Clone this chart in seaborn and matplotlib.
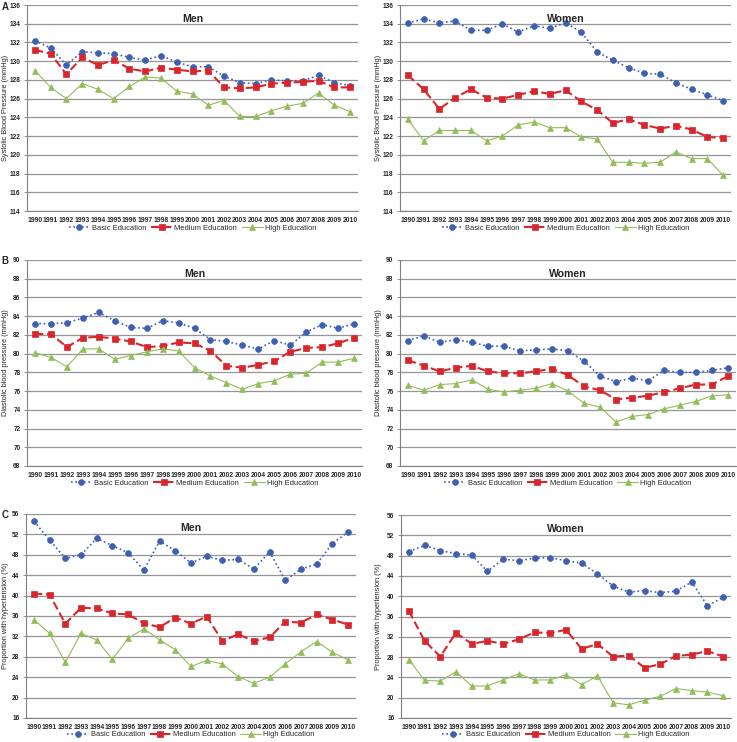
import matplotlib
matplotlib.use("Agg")
import matplotlib.pyplot as plt
import seaborn as sns
import numpy as np

years = [str(y) for y in range(1990, 2011)]
series_names = ["Basic Education", "Medium Education", "High Education"]

# Panel A: systolic blood pressure (mmHg)
sbp_men_basic = [132.2, 131.4, 129.6, 131.0, 130.9, 130.8, 130.4, 130.1, 130.6, 129.9, 129.4,
                 129.4, 128.4, 127.7, 127.6, 128.0, 127.9, 127.9, 128.5, 127.7, 127.4]
sbp_men_medium = [131.2, 130.8, 128.6, 130.4, 129.6, 130.1, 129.2, 128.9, 129.3, 129.1, 128.9,
                  129.0, 127.2, 127.1, 127.2, 127.6, 127.7, 127.8, 127.9, 127.2, 127.2]
sbp_men_high = [129.0, 127.2, 126.0, 127.6, 127.0, 126.0, 127.3, 128.3, 128.2, 126.8, 126.5,
                125.3, 125.8, 124.1, 124.1, 124.7, 125.2, 125.5, 126.6, 125.3, 124.6]
sbp_women_basic = [134.1, 134.5, 134.1, 134.3, 133.3, 133.3, 134.0, 133.1, 133.8, 133.5, 134.1,
                   133.1, 131.0, 130.1, 129.3, 128.7, 128.6, 127.7, 127.0, 126.4, 125.8]
sbp_women_medium = [128.5, 127.0, 124.9, 126.1, 127.0, 126.1, 126.0, 126.4, 126.8, 126.5, 126.9,
                    125.7, 124.8, 123.4, 123.8, 123.2, 122.8, 123.1, 122.7, 121.9, 121.8]
sbp_women_high = [123.8, 121.5, 122.6, 122.6, 122.6, 121.5, 122.0, 123.2, 123.5, 122.9, 122.9,
                  121.9, 121.7, 119.2, 119.2, 119.1, 119.2, 120.3, 119.6, 119.6, 117.8]

# Panel B: diastolic blood pressure (mmHg)
dbp_men_basic = [83.2, 83.2, 83.3, 83.8, 84.4, 83.5, 82.8, 82.7, 83.5, 83.3, 82.7,
                 81.5, 81.3, 80.9, 80.5, 81.4, 80.9, 82.3, 83.1, 82.7, 83.2]
dbp_men_medium = [82.1, 82.1, 80.7, 81.7, 81.8, 81.6, 81.3, 80.7, 80.8, 81.2, 81.1,
                  80.3, 78.7, 78.5, 78.8, 79.2, 80.2, 80.6, 80.7, 81.1, 81.7]
dbp_men_high = [80.1, 79.6, 78.6, 80.5, 80.5, 79.4, 79.8, 80.2, 80.5, 80.3, 78.5,
                77.6, 76.9, 76.2, 76.8, 77.1, 77.8, 77.9, 79.1, 79.1, 79.5]
dbp_women_basic = [81.4, 81.9, 81.2, 81.5, 81.2, 80.8, 80.8, 80.3, 80.4, 80.5, 80.3,
                   79.2, 77.6, 77.0, 77.4, 77.1, 78.2, 78.0, 78.0, 78.2, 78.5]
dbp_women_medium = [79.3, 78.7, 78.1, 78.5, 78.7, 78.1, 77.9, 77.9, 78.1, 78.4, 77.7,
                    76.5, 76.1, 75.1, 75.3, 75.5, 75.9, 76.3, 76.7, 76.7, 77.6]
dbp_women_high = [76.6, 76.1, 76.7, 76.8, 77.2, 76.2, 75.9, 76.1, 76.3, 76.8, 76.0,
                  74.7, 74.3, 72.7, 73.3, 73.5, 74.1, 74.5, 74.9, 75.5, 75.6]

# Panel C: proportion with hypertension (%)
htn_men_basic = [54.6, 50.9, 47.3, 48.0, 51.2, 49.8, 48.4, 45.0, 50.7, 48.8, 46.4,
                 47.7, 46.9, 47.1, 45.2, 48.6, 43.0, 45.2, 46.2, 50.2, 52.5]
htn_men_medium = [40.4, 40.2, 34.5, 37.6, 37.5, 36.5, 36.3, 34.6, 33.8, 35.7, 34.5,
                  35.9, 31.1, 32.4, 31.1, 31.8, 34.9, 34.7, 36.3, 35.3, 34.3]
htn_men_high = [35.3, 32.6, 26.9, 32.6, 31.3, 27.5, 31.6, 33.5, 31.3, 29.4, 26.1,
                27.3, 26.6, 24.1, 22.8, 24.0, 26.6, 29.0, 31.0, 28.9, 27.4]
htn_women_basic = [48.8, 50.0, 49.0, 48.4, 48.1, 44.9, 47.3, 47.0, 47.5, 47.6, 47.0,
                   46.5, 44.4, 42.0, 40.8, 41.1, 40.7, 41.0, 42.8, 38.1, 39.8]
htn_women_medium = [37.1, 31.2, 28.1, 32.8, 30.6, 31.2, 30.6, 31.5, 32.9, 32.7, 33.4,
                    29.6, 30.6, 28.1, 28.3, 25.9, 26.6, 28.2, 28.5, 29.2, 28.1]
htn_women_high = [27.5, 23.4, 23.3, 25.1, 22.3, 22.3, 23.5, 24.7, 23.5, 23.5, 24.5,
                  22.6, 24.3, 19.0, 18.6, 19.5, 20.3, 21.8, 21.4, 21.1, 20.4]

sns.set_style("white")
plt.rcParams["font.family"] = ["Liberation Sans", "DejaVu Sans"]

W, H = 737, 742
fig = plt.figure(figsize=(W / 100, H / 100), dpi=100)

styles = [
    dict(color="#3f60b0", marker="o", linestyle=(0, (1, 1.6)), linewidth=1.2, markersize=4.2),
    dict(color="#d8262c", marker="s", linestyle=(0, (4, 1.8)), linewidth=1.5, markersize=4.0),
    dict(color="#93bd5a", marker="^", linestyle="-", linewidth=0.8, markersize=4.2),
]


def panel(rect_px, data, yrange, ylabel, title, label_right_px, letter=None):
    l, t, r, b = rect_px
    ymin, ymax, ystep = yrange
    ax = fig.add_axes([l / W, 1 - b / H, (r - l) / W, (b - t) / H])
    x = np.arange(len(years))
    for vals, name, st in zip(data, series_names, styles):
        sns.lineplot(x=x, y=vals, ax=ax, label=name, color=st["color"], marker=st["marker"],
                     linestyle=st["linestyle"], linewidth=st["linewidth"],
                     markersize=st["markersize"], markeredgecolor=st["color"],
                     markeredgewidth=0.5)
    ax.set_xlim(-0.5, len(years) - 0.5)
    ax.set_ylim(ymin, ymax)
    ax.set_yticks(np.arange(ymin, ymax + 0.1, ystep))
    ax.set_xticks(x)
    ax.set_xticklabels(years, fontsize=4.9, fontweight="bold")
    ax.set_xticks(np.arange(-0.5, len(years), 1), minor=True)
    ax.tick_params(axis="x", which="major", length=0, pad=4.5)
    ax.tick_params(axis="x", which="minor", length=2.5, width=0.6, color="#808080", direction="out")
    ax.tick_params(axis="y", which="major", length=2.5, width=0.6, color="#808080",
                   labelsize=4.7, pad=2.2, left=True)
    for lab in ax.get_yticklabels():
        lab.set_fontweight("bold")
    ax.yaxis.grid(True, color="#959595", linewidth=0.9)
    ax.xaxis.grid(False)
    for s in ["top", "right"]:
        ax.spines[s].set_visible(False)
    for s in ["left", "bottom"]:
        ax.spines[s].set_color("#808080")
        ax.spines[s].set_linewidth(0.8)
    ax.set_ylabel(ylabel, fontsize=5.3)
    ax.yaxis.set_label_coords((label_right_px - l) / (r - l), 0.5)
    ax.set_xlabel("")
    ax.text(0.5, 0.955, title, transform=ax.transAxes, ha="center", va="top",
            fontsize=7.6, fontweight="bold")
    ax.legend(loc="upper center", bbox_to_anchor=(0.5, -0.05), ncol=3, frameon=False,
              fontsize=5.4, handlelength=2.8, handletextpad=0.3, columnspacing=0.6,
              borderaxespad=0)
    if letter:
        fig.text(1.5 / W, 1 - (t + 1.5) / H, letter, fontsize=7.0, fontweight="bold", va="center")
    return ax


panel((27, 5, 358, 211), [sbp_men_basic, sbp_men_medium, sbp_men_high], (114, 136, 2),
      "Systolic Blood Pressure (mmHg)", "Men", 9, "A")
panel((400, 5, 731, 211), [sbp_women_basic, sbp_women_medium, sbp_women_high], (114, 136, 2),
      "Systolic Blood Pressure (mmHg)", "Women", 382)
panel((27, 260, 362, 466), [dbp_men_basic, dbp_men_medium, dbp_men_high], (68, 90, 2),
      "Diastolic blood pressure (mmHg)", "Men", 9, "B")
panel((400, 260, 736, 466), [dbp_women_basic, dbp_women_medium, dbp_women_high], (68, 90, 2),
      "Diastolic blood pressure (mmHg)", "Women", 382)
panel((26, 514, 356, 718), [htn_men_basic, htn_men_medium, htn_men_high], (16, 56, 4),
      "Proportion with hypertension (%)", "Men", 9, "C")
panel((401, 515, 731, 718), [htn_women_basic, htn_women_medium, htn_women_high], (16, 56, 4),
      "Proportion with hypertension (%)", "Women", 382)

fig.savefig("out.png", dpi=100, facecolor="white")
